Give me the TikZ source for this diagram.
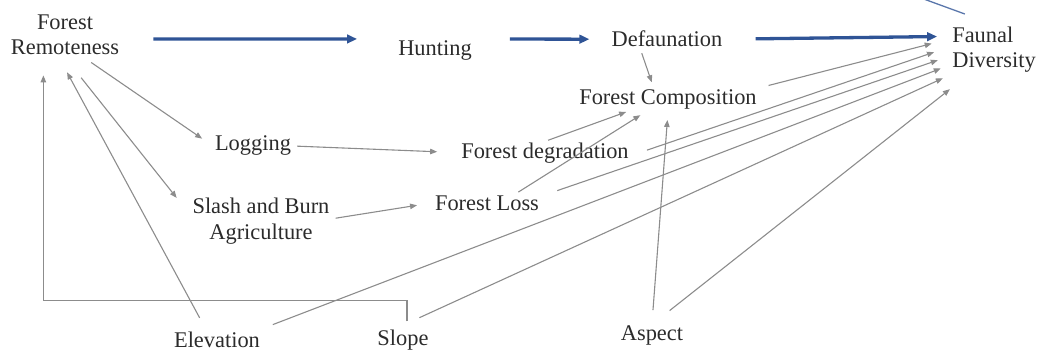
\documentclass[tikz,border=0pt]{standalone}
\usepackage{fontspec}
\setmainfont{Liberation Serif}
\usetikzlibrary{arrows.meta}
\definecolor{linkblue}{HTML}{2F5496}
\definecolor{linkgray}{HTML}{8C8C8C}
\definecolor{labelgray}{HTML}{2B2B2B}

\begin{document}
\begin{tikzpicture}[x=1pt, y=-1pt,
    every node/.style={font=\fontsize{22.4}{25.5}\selectfont, text=labelgray, inner sep=2pt},
    main/.style={draw=linkblue, line width=3.3pt, -{Triangle[length=10pt, width=8.5pt]}},
    side/.style={draw=linkgray, line width=1.1pt, -{Triangle[length=7pt, width=5.5pt]}}]
    \useasboundingbox (0, 0) rectangle (1047, 350);

    \node[align=center] at (65, 35) (rem) {Forest\\Remoteness};
    \node[anchor=base] at (435, 56) (hunt) {Hunting};
    \node[anchor=base] at (667, 47) (defa) {Defaunation};
    \node[align=left] at (994, 49.8) (fauna) {Faunal\\Diversity};
    \node[anchor=base] at (668, 105) (fcomp) {Forest Composition};
    \node[anchor=base] at (253, 151) (log) {Logging};
    \node[anchor=base] at (545, 158) (fdeg) {Forest degradation};
    \node[anchor=base] at (487, 210) (floss) {Forest Loss};
    \node[align=center] at (261, 221.3) (slash) {Slash and Burn\\Agriculture};
    \node[anchor=base] at (217, 347) (elev) {Elevation};
    \node[anchor=base] at (403, 345) (slope) {Slope};
    \node[anchor=base] at (652, 340) (asp) {Aspect};
    \coordinate (edge) at (921, -2);

    \draw[main, shorten <=32pt, shorten >=39pt] (rem.-4) -- (hunt.north west);
    \draw[main, shorten <=36pt, shorten >=20pt] (hunt.north east) -- (defa.west);
    \draw[main, shorten <=31pt, shorten >=13pt] (defa.east) -- (fauna.163);
    \draw[draw=linkblue!80, line width=1.3pt, shorten >=31pt] (edge) -- (fauna.north);

    \draw[side, shorten <=9pt, shorten >=13pt] (rem.-50) -- (log.west);
    \draw[side, shorten <=26pt, shorten >=22pt] (rem.south) -- (slash.175);
    \draw[side, shorten <=13pt, shorten >=17pt] (elev.138) -- (rem.-105);
    \draw[side, shorten <=6pt, shorten >=18pt] (slope.72) -- ++(0, -26.7) -| (rem.-134);
    \draw[side, shorten <=4pt, shorten >=22pt] (log.east) -- (fdeg.west);
    \draw[side, shorten <=4pt, shorten >=16pt] (slash.2) -- (floss.west);
    \draw[side, shorten <=4pt, shorten >=6pt] (defa.-159) -- (fcomp.140);
    \draw[side] (fdeg.76) -- (fcomp.-164);
    \draw[side, shorten <=2pt, shorten >=6pt] (floss.18) -- (fcomp.-152);
    \draw[side, shorten <=13pt, shorten >=8pt] (asp.north) -- (fcomp.south);
    \draw[side, shorten <=10pt, shorten >=19pt] (fcomp.north east) -- (fauna.166);
    \draw[side, shorten <=17pt, shorten >=17pt] (fdeg.-2) -- (fauna.176);
    \draw[side, shorten <=17pt, shorten >=13pt] (floss.7) -- (fauna.-172);
    \draw[side, shorten <=13pt, shorten >=10pt] (elev.13) -- (fauna.-161);
    \draw[side, shorten <=23pt, shorten >=8pt] (slope.110) -- (fauna.south west);
    \draw[side, shorten <=20pt, shorten >=23pt] (asp.81) -- (fauna.-136);
\end{tikzpicture}
\end{document}
